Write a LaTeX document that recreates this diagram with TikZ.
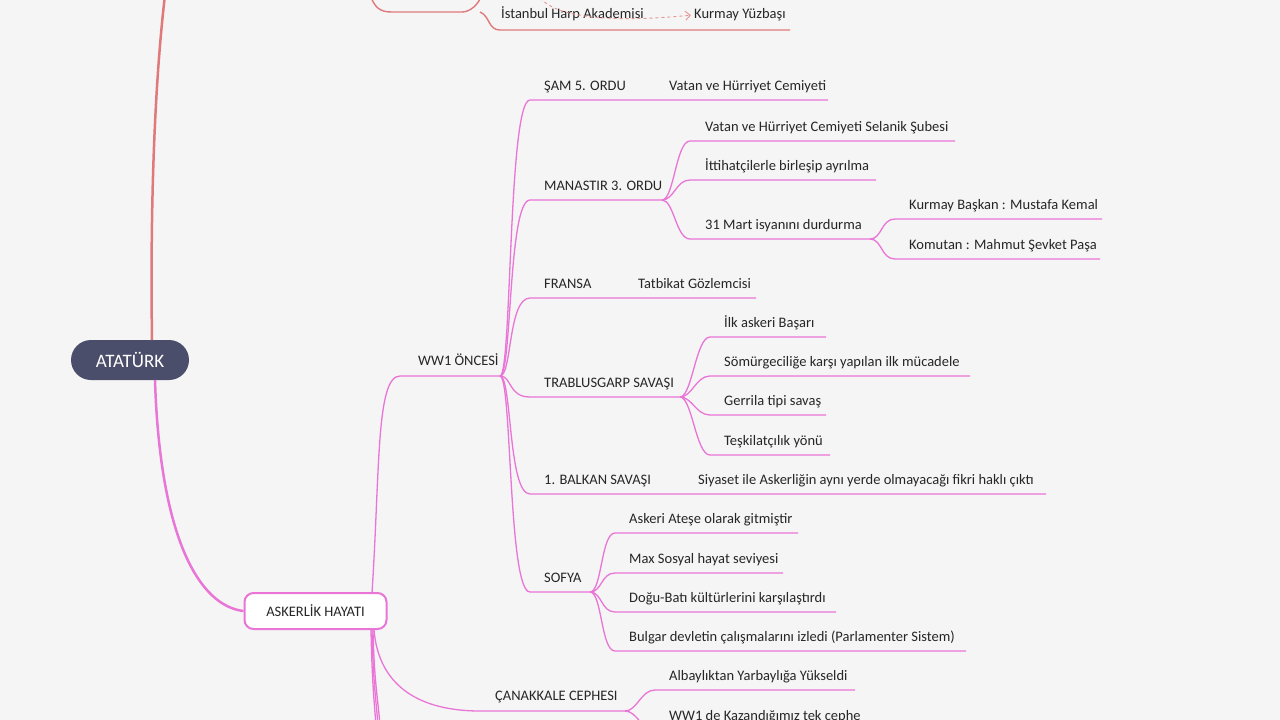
\documentclass[tikz,border=0pt]{standalone}
\usepackage{fontspec}
\setmainfont{Carlito}
\usetikzlibrary{arrows.meta}
\definecolor{bg}{HTML}{F5F5F5}
\definecolor{pk}{HTML}{E975D6}
\definecolor{rd}{HTML}{E07A7A}
\definecolor{dk}{HTML}{4A4E6A}
\tikzset{
 lbl/.style={anchor=base west,inner sep=0pt,font=\fontsize{14.5}{16}\selectfont,text=black!85},
 br/.style={draw=pk,line width=1.3pt},
 rb/.style={draw=rd,line width=1.4pt},
}
\begin{document}
\begin{tikzpicture}[x=1pt,y=-1pt]
\useasboundingbox (0,0) rectangle (1280,720);
\fill[bg] (0,0) rectangle (1280,720);
\begin{scope}
\clip (0,0) rectangle (1280,720);
% ---------- top red part ----------
\coordinate (ra) at (370,-5);
\coordinate (rb0) at (462,12);
\draw[rb] (ra) .. controls (375,8) and (380,12) .. (392,12) -- (rb0) .. controls (470,12) and (478,5) .. (482,-5);
\coordinate (ist0) at (480,12);
\coordinate (ist1) at (500,30);
\coordinate (ist2) at (790,30);
\draw[rb] (ist0) .. controls (490,16) and (488,30) .. (ist1) -- (ist2);
\node[lbl] (ist) at (501,19) {İstanbul Harp Akademisi};
\node[lbl] (kur) at (694,19) {Kurmay Yüzbaşı};
\coordinate (dsrc) at (540,-2);
\draw[rd!80,dashed,line width=0.9pt,-{Straight Barb[length=5pt,width=9pt]}] (dsrc) .. controls (560,20) and (620,22) .. ([xshift=-3pt]kur.west);
% ---------- root ----------
\node[fill=dk,rounded corners=20pt,minimum width=118pt,minimum height=40pt,text=white,font=\fontsize{19}{22}\selectfont] (root) at (130,360) {ATATÜRK};
\draw[rd,line width=2.5pt] (152,340) .. controls (150,200) and (155,80) .. (165,-5);
% ---------- askerlik ----------
\node[draw=pk,line width=2pt,fill=white,rounded corners=9pt,minimum width=142pt,minimum height=36pt,font=\fontsize{14.5}{16}\selectfont,text=black!85] (ask) at (315.5,611) {ASKERLİK HAYATI};
\draw[pk,line width=2.5pt] (155,380) .. controls (160,540) and (200,606) .. (ask.west);
% ---------- WW1 ÖNCESİ ----------
\coordinate (w0) at (400,376); \coordinate (w1) at (500,376);
\node[lbl] (ww) at (418,365) {WW1 ÖNCESİ};
\draw[br] (372,593) .. controls (380,470) and (376,376) .. (w0) -- (w1);
\foreach \yy in {0,4,8} {\draw[br] (371+\yy/4,630) .. controls (372+\yy/4,680) and (374+\yy/2,700) .. (376+\yy/2,725);}
% ---------- ÇANAKKALE ----------
\coordinate (can0) at (480,711); \coordinate (can1) at (625,711);
\node[lbl] (can) at (495,700) {ÇANAKKALE CEPHESI};
\draw[br] (374,630) .. controls (380,700) and (440,711) .. (can0) -- (can1);
\coordinate (m31) at (870,239);
% children of WW1
\foreach \n/\yy/\xe/\t in {sam/100/828/ŞAM 5. ORDU, man/200/662/MANASTIR 3. ORDU, fra/298/756/FRANSA, tra/397/680/TRABLUSGARP SAVAŞI, bal/494/1046/1. BALKAN SAVAŞI, sof/592/590/SOFYA}{
  \coordinate (\n0) at (530,\yy); \coordinate (\n1) at (\xe,\yy);
  \node[lbl] (\n) at (544,\yy-10) {\t};
  \draw[br] (w1) .. controls (512,376) and (508,\yy) .. (\n0) -- (\n1);
}
% single chained children
\node[lbl] (samc) at (669,90) {Vatan ve Hürriyet Cemiyeti};
\node[lbl] (frac) at (638,288) {Tatbikat Gözlemcisi};
\node[lbl] (balc) at (698,484) {Siyaset ile Askerliğin aynı yerde olmayacağı fikri haklı çıktı};
\foreach \p/\xs/\tx/\n/\yy/\xe/\t in {
 man1/690/705/m1/141/955/Vatan ve Hürriyet Cemiyeti Selanik Şubesi,
 man1/690/705/m2/180/876/İttihatçilerle birleşip ayrılma,
 man1/690/705/m3/239/870/31 Mart isyanını durdurma,
 m31/895/909/k1/219/1102/Kurmay Başkan : Mustafa Kemal,
 m31/895/909/k2/259/1100/Komutan : Mahmut Şevket Paşa,
 tra1/710/724/t1/337/826/İlk askeri Başarı,
 tra1/710/724/t2/376/970/Sömürgeciliğe karşı yapılan ilk mücadele,
 tra1/710/724/t3/415/826/Gerrila tipi savaş,
 tra1/710/724/t4/455/830/Teşkilatçılık yönü,
 sof1/615/629/s1/533/798/Askeri Ateşe olarak gitmiştir,
 sof1/615/629/s2/573/783/Max Sosyal hayat seviyesi,
 sof1/615/629/s3/612/836/Doğu-Batı kültürlerini karşılaştırdı,
 sof1/615/629/s4/651/966/Bulgar devletin çalışmalarını izledi (Parlamenter Sistem),
 can1/655/669/c1/690/855/Albaylıktan Yarbaylığa Yükseldi,
 can1/655/669/c2/730/900/WW1 de Kazandığımız tek cephe}{
  \coordinate (\n0) at (\xs,\yy); \coordinate (\n1) at (\xe,\yy);
  \node[lbl] (\n) at (\tx,\yy-10) {\t};
  \draw[br] (\p) .. controls ([xshift=12pt]\p) and ([xshift=-14pt]\n0) .. (\n0) -- (\n1);
}
\end{scope}
\end{tikzpicture}
\end{document}
